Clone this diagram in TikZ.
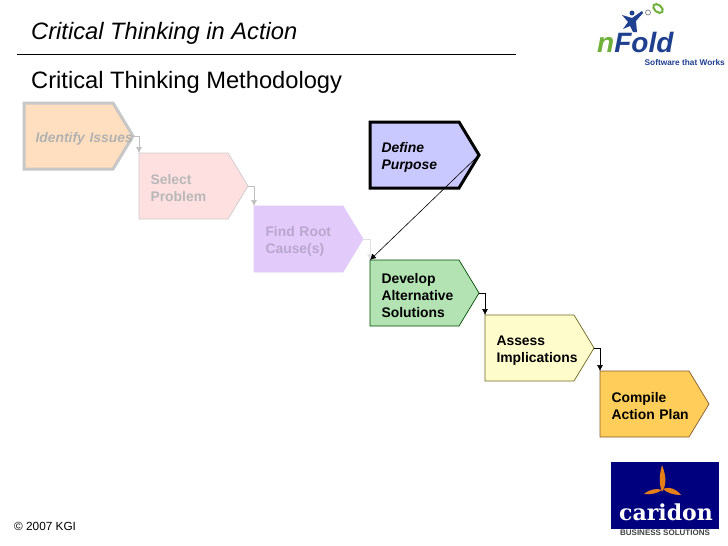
\documentclass[tikz,border=0pt]{standalone}
\usepackage{fontspec}
\setmainfont{Liberation Sans}
\newfontfamily\logoserif{DejaVu Serif}
\usetikzlibrary{shapes.symbols,arrows.meta}
\definecolor{navylogo}{HTML}{00007E}
\definecolor{bluelogo}{HTML}{1F3F8F}
\definecolor{greenlogo}{HTML}{6FB03A}
\definecolor{rootfill}{HTML}{E2CBFB}
\definecolor{developfill}{HTML}{B3E3B3}
\tikzset{
  stepbox/.style={shape=signal, signal to=east, signal from=nowhere, signal pointer angle=117.5,
    anchor=west, minimum height=66, text width=66, inner xsep=11.5, inner ysep=0, outer sep=0,
    align=left, font=\fontsize{13.9}{17}\selectfont\bfseries,
    execute at begin node={\hyphenpenalty=10000\relax\rule{0pt}{15pt}}},
  link/.style={-{Latex[length=6,width=6]}, line width=0.6pt},
  linkfaded/.style={link, draw=black!25}
}
\begin{document}
\begin{tikzpicture}[x=1pt, y=-1pt, line join=miter]
  \useasboundingbox[fill=white] (0,0) rectangle (728,546);
  % Kopfzeile
  \node[anchor=west, inner sep=0, font=\fontsize{23.7}{25}\selectfont\itshape] (title) at (31,33) {Critical Thinking in Action};
  \draw[line width=0.7pt] (17,54) -- (516,54);
  \node[anchor=west, inner sep=0, font=\fontsize{23.7}{25}\selectfont] (subtitle) at (31,82) {Critical Thinking Methodology};
  % Schritte
  \node[stepbox, fill=orange!25!white, draw=black!22, line width=3pt, font=\fontsize{13.9}{17}\selectfont\bfseries\itshape, text=black!30] (identify) at (24,136) {\mbox{Identify Issues}};
  \node[stepbox, fill=red!12!white, draw=black!20, line width=0.7pt, text=black!28] (select) at (139,186) {Select\\Problem};
  \node[stepbox, fill=rootfill, draw=rootfill, line width=0.7pt, text=rootfill!82!black] (findroot) at (254,239) {Find Root\\Cause(s)};
  \node[stepbox, fill=blue!21!white, draw=black, line width=3pt, font=\fontsize{13.9}{17}\selectfont\bfseries\itshape] (define) at (370,155) {Define\\Purpose};
  \node[stepbox, fill=developfill, draw=green!30!black, line width=0.7pt] (develop) at (370,293) {Develop\\Alternative\\Solutions};
  \node[stepbox, fill=yellow!20!white, draw=olive!70!black, line width=0.7pt] (assess) at (485,348) {Assess\\Implications};
  \node[stepbox, fill=orange!60!yellow!65!white, draw=brown!70!black, line width=0.7pt] (compile) at (600,404) {Compile\\\mbox{Action Plan}};
  % Verbindungen
  \draw[linkfaded] (identify.east) -| (select.north west);
  \draw[linkfaded] (select.east) -| (findroot.north west);
  \draw[linkfaded, draw=black!12] (findroot.east) -| (develop.north west);
  \draw[link] (define.east) -- (develop.north west);
  \draw[link] (develop.east) -| (assess.north west);
  \draw[link] (assess.east) -| (compile.north west);
  % Logo nFold
  \node[anchor=west, inner sep=0, font=\fontsize{28}{30}\selectfont\bfseries\itshape, text=bluelogo] (nfold) at (597,42) {\textcolor{greenlogo}{n}Fold};
  \node[anchor=east, inner sep=0, font=\fontsize{8.3}{9}\selectfont\bfseries, text=bluelogo] (software) at (725,63) {Software that Works};
  \fill[bluelogo] (622,15) -- (632,18) -- (642,11) -- (643,13) -- (636,21) -- (637,32) -- (633,32) -- (630,26) -- (623,29) -- (628,22) -- cycle;
  \fill[bluelogo] (632,13) circle (2.5);
  \draw[greenlogo, line width=2pt, rotate around={-40:(658,8.5)}] (658,8.5) ellipse (5.5 and 3.5);
  \draw[black!50, line width=0.7pt] (648,12.5) circle (2.5);
  % Logo caridon
  \fill[navylogo] (611,462) rectangle (719,529);
  \node[inner sep=0, font=\fontsize{22}{24}\logoserif\bfseries, text=white] (caridon) at (666,512) {caridon};
  \node[inner sep=0, font=\fontsize{8}{9}\selectfont\bfseries, text=black!75] (solutions) at (665,532.5) {BUSINESS SOLUTIONS};
  \fill[orange!60!brown] (662,465) .. controls (667,478) and (666,486) .. (662,492) .. controls (659,484) and (659,476) .. (662,465) -- cycle;
  \fill[orange!60!brown] (644,494) .. controls (650,489) and (657,488) .. (662,490) .. controls (658,493) and (651,495) .. (644,494) -- cycle;
  \fill[orange!60!brown] (681,495) .. controls (676,489) and (670,486) .. (663,489) .. controls (667,493) and (674,495) .. (681,495) -- cycle;
  % Fusszeile
  \node[anchor=west, inner sep=0, font=\fontsize{11.8}{12}\selectfont] (copyright) at (14,526.5) {\copyright{} 2007 KGI};
\end{tikzpicture}
\end{document}
